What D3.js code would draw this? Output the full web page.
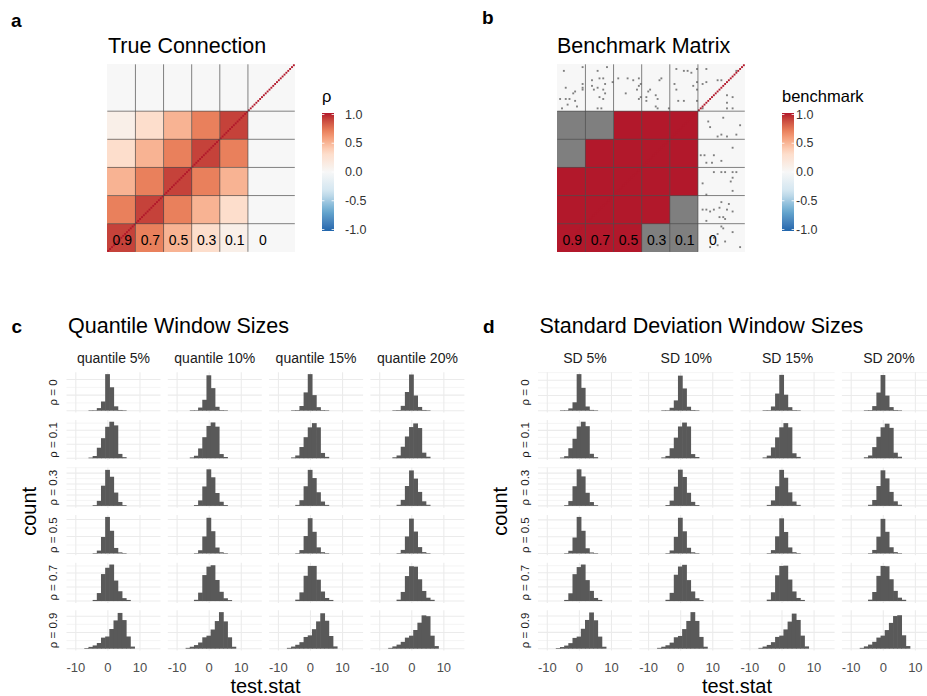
<!DOCTYPE html>
<html><head><meta charset="utf-8">
<script src="https://cdn.jsdelivr.net/npm/d3@7"></script>
<style>
body{margin:0;background:#fff}
text{font-family:"Liberation Sans",Arial,sans-serif}
</style>
</head><body>
<svg id="chart" width="927" height="696"></svg>
<script>
// ---------------- data ----------------
// block layout of the 100 x 100 connection matrix (rows counted from the bottom)
const blockSizes = [15, 15, 15, 15, 15, 25];
const trueBlocks = [
  [0.9, 0.7, 0.5, 0.3, 0.1, 0],
  [0.7, 0.9, 0.7, 0.5, 0.3, 0],
  [0.5, 0.7, 0.9, 0.7, 0.5, 0],
  [0.3, 0.5, 0.7, 0.9, 0.7, 0],
  [0.1, 0.3, 0.5, 0.7, 0.9, 0],
  [0,   0,   0,   0,   0,   0]
];
// null = not detected (drawn in the NA colour)
const benchBlocks = [
  [1,    1,    1, null, null, 0],
  [1,    1,    1, 1,    null, 0],
  [1,    1,    1, 1,    1,    0],
  [null, 1,    1, 1,    1,    0],
  [null, null, 1, 1,    1,    0],
  [0,    0,    0, 0,    0,    0]
];
const blockLabels = ["0.9", "0.7", "0.5", "0.3", "0.1", "0"];
const blockLabelX = [8, 23, 38, 53, 68, 83];
const blockLabelY = 6.5;
// isolated NA cells of the benchmark matrix: [column, row from bottom]
const benchNA = [
  [3,96],[13,98],[4,87],[8,84],[9,85],[1,81],[4,81],[6,81],[9,80],[5,78],[10,77],[2,76],[13,89],[13,87],[13,86],
  [21,96],[26,98],[18,91],[22,92],[24,92],[25,89],[18,88],[19,86],[21,87],[24,86],[25,84],[22,82],[24,81],[21,76],[23,76],[29,90],
  [32,92],[37,92],[40,91],[43,92],[43,88],[44,89],[42,86],[43,81],[44,82],[36,84],
  [54,91],[55,92],[48,85],[47,82],[47,80],[52,83],[53,81],[52,77],[53,76],[59,76],[49,86],
  [63,97],[67,96],[69,96],[74,97],[62,89],[63,86],[72,88],[74,90],[74,86],[64,80],[67,80],[74,80],[71,95],
  [79,90],[77,89],[85,91],[87,91],[90,83],[93,82],[90,79],[95,96],[79,97],[77,76],[93,76],[90,76],
  [88,71],[81,66],[85,61],[87,62],[90,61],[97,67],[95,62],[80,69],
  [93,55],[76,51],[78,51],[83,51],[87,48],[79,47],[82,47],
  [83,42],[87,42],[89,42],[93,42],[95,42],[93,39],[79,30],[93,32],[92,37],[77,36],
  [87,26],[91,25],[77,22],[79,22],[83,22],[86,23],[90,22],[88,18],[86,18],[81,21],[79,16],[89,17],[93,21],
  [87,13],[88,12],[81,7],[83,7],[85,9],[85,3],[81,2],[97,2],[89,5],[93,10]
];
const legendBreaks = [1, 0.5, 0, -0.5, -1];
const legendLabels = ["1.0", "0.5", "0.0", "-0.5", "-1.0"];

const rhoLevels = ["0", "0.1", "0.3", "0.5", "0.7", "0.9"];
const quantileWindows = ["quantile 5%", "quantile 10%", "quantile 15%", "quantile 20%"];
const sdWindows = ["SD 5%", "SD 10%", "SD 15%", "SD 20%"];
const xTicks = [-10, 0, 10];
const xLimits = [-12.9, 16.4];
const binStart = -8.65, binWidth = 1.3;

// histogram counts of test.stat: [window][rho][bin]
const quantileCounts = [
  [ [0,0,2,5,33,118,470,301,56,9,2,0,0,0],
    [0,0,5,16,75,143,224,260,234,31,8,0,0,0],
    [0,0,0,7,46,185,330,267,122,36,7,0,0,0],
    [0,0,0,3,34,194,430,267,65,13,3,0,0,0],
    [0,0,0,8,57,192,237,260,146,70,21,8,0,0],
    [0,4,11,20,35,68,75,121,174,220,176,75,13,0] ],
  [ [0,0,2,6,40,140,455,290,50,8,2,0,0,0],
    [0,0,6,18,70,150,230,255,225,30,9,0,0,0],
    [0,0,0,8,50,178,335,262,118,38,8,0,0,0],
    [0,0,0,4,38,200,420,262,70,14,3,0,0,0],
    [0,0,0,9,60,185,245,255,150,66,20,7,0,0],
    [0,5,12,22,38,70,80,118,170,225,168,70,12,0] ],
  [ [0,0,3,8,60,235,470,200,45,8,2,0,0,0],
    [0,0,6,20,80,150,220,250,220,38,10,0,0,0],
    [0,0,0,9,52,180,330,255,125,40,9,0,0,0],
    [0,0,0,4,40,205,415,255,72,15,4,0,0,0],
    [0,0,0,10,62,180,250,250,152,68,22,8,0,0],
    [0,5,13,24,40,72,82,120,168,218,172,78,14,0] ],
  [ [0,0,3,8,62,240,465,195,48,9,2,0,0,0],
    [0,0,7,20,82,155,222,248,215,40,11,0,0,0],
    [0,0,0,10,55,182,325,250,128,42,10,0,0,0],
    [0,0,0,5,42,200,410,258,75,16,4,0,0,0],
    [0,0,0,10,65,178,248,245,155,72,24,9,0,0],
    [0,5,14,25,42,68,80,115,160,205,200,80,16,0] ]
];
const sdCounts = [
  [ [0,0,2,6,30,110,480,300,55,10,2,0,0,0],
    [0,0,5,15,72,140,228,262,230,32,8,0,0,0],
    [0,0,0,7,44,180,335,270,120,35,7,0,0,0],
    [0,0,0,3,32,190,435,270,62,12,3,0,0,0],
    [0,0,0,8,55,190,240,258,148,72,22,8,0,0],
    [0,4,10,19,34,66,74,122,176,222,174,74,12,0] ],
  [ [0,0,2,6,38,135,460,292,52,9,2,0,0,0],
    [0,0,6,17,72,148,228,256,228,30,9,0,0,0],
    [0,0,0,8,48,176,332,265,120,37,8,0,0,0],
    [0,0,0,4,36,198,425,264,68,14,3,0,0,0],
    [0,0,0,9,58,186,244,256,148,68,20,7,0,0],
    [0,5,12,21,37,70,78,120,170,224,170,72,12,0] ],
  [ [0,0,3,7,55,225,470,210,46,8,2,0,0,0],
    [0,0,6,19,78,150,222,252,222,36,10,0,0,0],
    [0,0,0,9,50,180,330,258,124,40,9,0,0,0],
    [0,0,0,4,40,204,418,256,72,15,4,0,0,0],
    [0,0,0,10,62,182,248,250,152,68,22,8,0,0],
    [0,5,13,23,40,72,80,118,166,215,176,80,14,0] ],
  [ [0,0,3,8,60,238,468,198,47,9,2,0,0,0],
    [0,0,7,20,80,154,222,248,218,40,11,0,0,0],
    [0,0,0,10,54,182,326,252,128,42,10,0,0,0],
    [0,0,0,5,42,200,412,258,74,16,4,0,0,0],
    [0,0,0,10,64,178,248,246,154,72,24,9,0,0],
    [0,5,14,25,42,68,80,114,158,200,205,82,16,0] ]
];

// ---------------- drawing ----------------
const svg = d3.select("#chart");
const fill = d3.scaleLinear()
  .domain([-1, -2/3, -1/3, 0, 1/3, 2/3, 1])
  .range(["#2166AC", "#67A9CF", "#D1E5F0", "#F7F7F7", "#FDDBC7", "#EF8A62", "#B2182B"])
  .interpolate(d3.interpolateLab);
const naColor = "#7F7F7F";
const offsets = [0];
blockSizes.forEach(s => offsets.push(offsets[offsets.length - 1] + s));
const N = offsets[offsets.length - 1];

function panelLetter(x, y, t) {
  svg.append("text").attr("x", x).attr("y", y).attr("font-size", 19)
    .attr("font-weight", "bold").attr("fill", "#000").text(t);
}
function title(x, y, t) {
  svg.append("text").attr("x", x).attr("y", y).attr("font-size", 21.5)
    .attr("fill", "#000").text(t);
}

function heatmap(x0, y0, size, blocks, naCells) {
  const g = svg.append("g");
  const mx = d3.scaleLinear().domain([0, N]).range([x0, x0 + size]);
  const my = d3.scaleLinear().domain([0, N]).range([y0 + size, y0]);
  const cells = [];
  blocks.forEach((row, i) => row.forEach((v, j) => cells.push({i, j, v})));
  g.selectAll("rect.block").data(cells).join("rect").attr("class", "block")
    .attr("x", d => mx(offsets[d.j])).attr("y", d => my(offsets[d.i + 1]))
    .attr("width", d => mx(offsets[d.j + 1]) - mx(offsets[d.j]))
    .attr("height", d => my(offsets[d.i]) - my(offsets[d.i + 1]))
    .attr("fill", d => d.v === null ? naColor : fill(d.v))
    .attr("shape-rendering", "crispEdges");
  g.selectAll("rect.na").data(naCells).join("rect").attr("class", "na")
    .attr("x", d => mx(d[0])).attr("y", d => my(d[1] + 1))
    .attr("width", mx(1) - mx(0)).attr("height", my(0) - my(1))
    .attr("fill", naColor);
  g.selectAll("rect.diag").data(d3.range(N)).join("rect").attr("class", "diag")
    .attr("x", k => mx(k)).attr("y", k => my(k + 1))
    .attr("width", mx(1) - mx(0)).attr("height", my(0) - my(1))
    .attr("fill", fill(1));
  const inner = offsets.slice(1, -1);
  g.selectAll("line.v").data(inner).join("line").attr("class", "v")
    .attr("x1", b => mx(b)).attr("x2", b => mx(b)).attr("y1", my(0)).attr("y2", my(N))
    .attr("stroke", "#4d4d4d").attr("stroke-width", 0.7);
  g.selectAll("line.h").data(inner).join("line").attr("class", "h")
    .attr("y1", b => my(b)).attr("y2", b => my(b)).attr("x1", mx(0)).attr("x2", mx(N))
    .attr("stroke", "#4d4d4d").attr("stroke-width", 0.7);
  g.selectAll("text.lab").data(blockLabels).join("text").attr("class", "lab")
    .attr("x", (d, k) => mx(blockLabelX[k])).attr("y", my(blockLabelY))
    .attr("text-anchor", "middle").attr("dominant-baseline", "central")
    .attr("font-size", 14).attr("fill", "#000").text(d => d);
}

function colorbar(x, titleText, labelX) {
  const id = "grad" + Math.round(x);
  const grad = svg.append("defs").append("linearGradient").attr("id", id)
    .attr("x1", 0).attr("y1", 1).attr("x2", 0).attr("y2", 0);
  d3.range(-1, 1.0001, 0.1).forEach(v => {
    grad.append("stop").attr("offset", (v + 1) / 2).attr("stop-color", fill(v));
  });
  const ly = d3.scaleLinear().domain([-1, 1]).range([229.5, 114.5]);
  const w = 12;
  svg.append("rect").attr("x", x).attr("y", 113).attr("width", w).attr("height", 118)
    .attr("fill", `url(#${id})`);
  svg.selectAll(null).data(legendBreaks).join("g").each(function(v) {
    const g = d3.select(this);
    g.append("line").attr("x1", x).attr("x2", x + 2.4).attr("y1", ly(v)).attr("y2", ly(v))
      .attr("stroke", "#fff").attr("stroke-width", 0.8);
    g.append("line").attr("x1", x + w - 2.4).attr("x2", x + w).attr("y1", ly(v)).attr("y2", ly(v))
      .attr("stroke", "#fff").attr("stroke-width", 0.8);
  });
  svg.selectAll(null).data(legendBreaks).join("text")
    .attr("x", labelX).attr("y", v => ly(v)).attr("dominant-baseline", "central")
    .attr("font-size", 12.5).attr("fill", "#333").text((v, k) => legendLabels[k]);
  svg.append("text").attr("x", x).attr("y", 102).attr("font-size", 16.5)
    .attr("fill", "#000").text(titleText);
}

// panel a
panelLetter(11, 27, "a");
title(108, 53, "True Connection");
heatmap(107.3, 64.3, 187.5, trueBlocks, []);
colorbar(322, "ρ", 345);

// panel b
panelLetter(482, 24, "b");
title(557, 53, "Benchmark Matrix");
heatmap(557.3, 64.3, 187.5, benchBlocks, benchNA);
colorbar(782, "benchmark", 796);

// histogram grids
const panelW = 94, panelH = 40.2, colPitch = 101.3, rowPitch = 47.6, gridTop = 372.3;

function facets(left, counts, windows, letter, titleText) {
  panelLetter(left - 55, 333, letter);
  title(left + 1.5, 333, titleText);
  const g = svg.append("g");
  windows.forEach((w, c) => {
    const px = left + c * colPitch;
    g.append("text").attr("x", px + panelW / 2).attr("y", 358).attr("text-anchor", "middle")
      .attr("dominant-baseline", "central").attr("font-size", 14).attr("fill", "#1a1a1a").text(w);
    const x = d3.scaleLinear().domain(xLimits).range([px, px + panelW]);
    rhoLevels.forEach((rho, r) => {
      const top = gridTop + r * rowPitch;
      const rowMax = d3.max(counts, col => d3.max(col[r]));
      const y = d3.scaleLinear().domain([-0.05 * rowMax, 1.05 * rowMax]).range([top + panelH, top]);
      const major = y.ticks(3).filter(t => t >= 0);
      const step = major[1] - major[0];
      const minor = d3.range(step / 2, 1.05 * rowMax, step);
      const pg = g.append("g");
      pg.selectAll("line.mn").data(minor).join("line")
        .attr("x1", px).attr("x2", px + panelW).attr("y1", t => y(t)).attr("y2", t => y(t))
        .attr("stroke", "#EBEBEB").attr("stroke-width", 0.55);
      pg.selectAll("line.mj").data(major).join("line")
        .attr("x1", px).attr("x2", px + panelW).attr("y1", t => y(t)).attr("y2", t => y(t))
        .attr("stroke", "#EBEBEB").attr("stroke-width", 1.07);
      pg.selectAll("line.vx").data(xTicks).join("line")
        .attr("x1", t => x(t)).attr("x2", t => x(t)).attr("y1", top).attr("y2", top + panelH)
        .attr("stroke", "#EBEBEB").attr("stroke-width", 1.07);
      const bins = counts[c][r].map((n, k) => ({x0: binStart + k * binWidth, x1: binStart + (k + 1) * binWidth, n}))
        .filter(b => b.n > 0);
      // slight overlap keeps neighbouring bars seamless
      pg.selectAll("rect").data(bins).join("rect")
        .attr("x", b => x(b.x0)).attr("width", b => x(b.x1) - x(b.x0) + 0.6)
        .attr("y", b => y(b.n)).attr("height", b => Math.max(0.5, y(0) - y(b.n)))
        .attr("fill", "#595959");
      if (c === 0) {
        g.append("text").attr("transform", `translate(${px - 13.5},${top + panelH / 2}) rotate(-90)`)
          .attr("text-anchor", "middle").attr("dominant-baseline", "central")
          .attr("font-size", 11.5).attr("fill", "#1a1a1a").text("ρ = " + rho);
      }
    });
    g.selectAll(null).data(xTicks).join("text")
      .attr("x", t => x(t)).attr("y", 667).attr("text-anchor", "middle")
      .attr("dominant-baseline", "central").attr("font-size", 13).attr("fill", "#4d4d4d")
      .text(t => t);
  });
  const totalW = windows.length * panelW + (windows.length - 1) * (colPitch - panelW);
  g.append("text").attr("x", left + totalW / 2).attr("y", 686).attr("text-anchor", "middle")
    .attr("dominant-baseline", "central").attr("font-size", 20).attr("fill", "#000").text("test.stat");
  g.append("text").attr("transform", `translate(${left - 38},${gridTop + (6 * panelH + 5 * (rowPitch - panelH)) / 2}) rotate(-90)`)
    .attr("text-anchor", "middle").attr("dominant-baseline", "central")
    .attr("font-size", 20).attr("fill", "#000").text("count");
}

facets(66.5, quantileCounts, quantileWindows, "c", "Quantile Window Sizes");
facets(538, sdCounts, sdWindows, "d", "Standard Deviation Window Sizes");
</script>
</body></html>
